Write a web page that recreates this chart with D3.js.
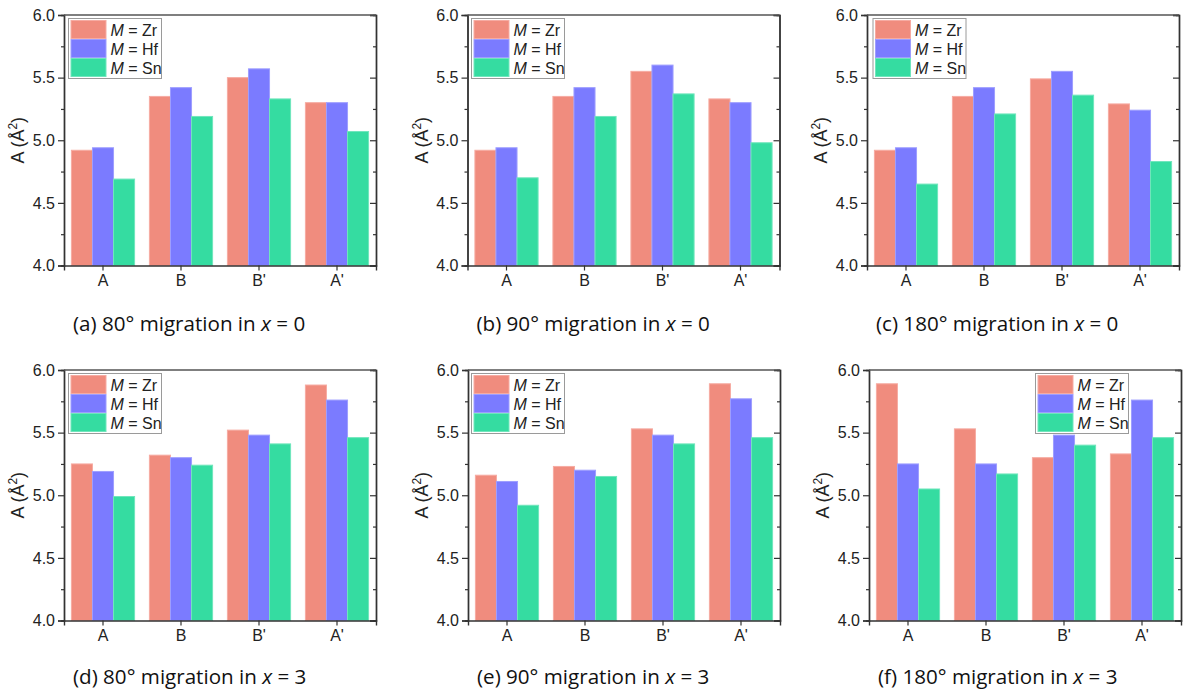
<!DOCTYPE html>
<html>
<head>
<meta charset="utf-8">
<script src="https://cdn.jsdelivr.net/npm/d3@7"></script>
<style>
  html, body { margin: 0; padding: 0; background: #fff; }
  svg { display: block; }
  .tick text { font-family: "Liberation Sans", Arial, sans-serif; font-size: 16px; fill: #222; }
</style>
</head>
<body>
<svg id="fig" width="1184" height="695"></svg>
<script>
// Categories (migration sites) and metal series
const categories = ["A", "B", "B'", "A'"];
const metals = ["Zr", "Hf", "Sn"];
const metalColors = ["#F08C7E", "#7B7BFF", "#35DCA1"];
const metalEdges = ["#F6ABA2", "#9E9EFF", "#70E6BC"];
const yMajorTicks = [4.0, 4.5, 5.0, 5.5, 6.0];
const yMinorTicks = [4.25, 4.75, 5.25, 5.75];

// Area A (Å²) per panel; rows are Zr, Hf, Sn; columns follow categories
const area80x0 = [[4.92, 5.35, 5.50, 5.30], [4.94, 5.42, 5.57, 5.30], [4.69, 5.19, 5.33, 5.07]];
const area90x0 = [[4.92, 5.35, 5.55, 5.33], [4.94, 5.42, 5.60, 5.30], [4.70, 5.19, 5.37, 4.98]];
const area180x0 = [[4.92, 5.35, 5.49, 5.29], [4.94, 5.42, 5.55, 5.24], [4.65, 5.21, 5.36, 4.83]];
const area80x3 = [[5.25, 5.32, 5.52, 5.88], [5.19, 5.30, 5.48, 5.76], [4.99, 5.24, 5.41, 5.46]];
const area90x3 = [[5.16, 5.23, 5.53, 5.89], [5.11, 5.20, 5.48, 5.77], [4.92, 5.15, 5.41, 5.46]];
const area180x3 = [[5.89, 5.53, 5.30, 5.33], [5.25, 5.25, 5.48, 5.76], [5.05, 5.17, 5.40, 5.46]];

const captionTags = ["(a)", "(b)", "(c)", "(d)", "(e)", "(f)"];
const captionAngles = ["80°", "90°", "180°", "80°", "90°", "180°"];
const captionX = ["0", "0", "0", "3", "3", "3"];

const panelData = [area80x0, area90x0, area180x0, area80x3, area90x3, area180x3];

// Layout of the six panels
const plotW = 312, plotH = 250.5;
const panels = [
  { left: 64, top: 15, legendDx: 4.5 },
  { left: 467.5, top: 15, legendDx: 4 },
  { left: 867, top: 15, legendDx: 6 },
  { left: 64, top: 370, legendDx: 4.5 },
  { left: 468, top: 370, legendDx: 3.5 },
  { left: 869, top: 370, legendDx: 166.5 }
];

const svg = d3.select("#fig");
const axisColor = "#333";

panels.forEach((p, pi) => {
  const g = svg.append("g").attr("transform", `translate(${p.left},${p.top})`);
  const data = panelData[pi];

  const x = d3.scaleBand().domain(categories).range([0, plotW]).padding(0);
  const groupW = x.bandwidth() * 0.81;
  const xs = d3.scaleBand().domain(metals).range([0, groupW]).padding(0);
  const y = d3.scaleLinear().domain([4, 6]).range([plotH, 0]);

  // Bars
  metals.forEach((m, si) => {
    g.append("g").selectAll("rect")
      .data(categories.map((c, ci) => ({ c, v: data[si][ci] })))
      .join("rect")
      .attr("x", d => x(d.c) + (x.bandwidth() - groupW) / 2 + xs(m))
      .attr("y", d => y(d.v))
      .attr("width", xs.bandwidth())
      .attr("height", d => y(4) - y(d.v))
      .attr("fill", metalColors[si])
      .attr("stroke", metalEdges[si])
      .attr("stroke-width", 1);
  });

  // Left axis: outward ticks, major labelled
  g.append("g")
    .call(d3.axisLeft(y).tickValues(yMajorTicks).tickSize(6).tickPadding(3).tickFormat(d3.format(".1f")));
  g.append("g")
    .call(d3.axisLeft(y).tickValues(yMinorTicks).tickSize(3).tickFormat(""));

  // Right axis: inward ticks, unlabelled
  g.append("g").attr("transform", `translate(${plotW},0)`)
    .call(d3.axisLeft(y).tickValues(yMajorTicks).tickSize(6).tickFormat(""));
  g.append("g").attr("transform", `translate(${plotW},0)`)
    .call(d3.axisLeft(y).tickValues(yMinorTicks).tickSize(3).tickFormat(""));

  // Bottom axis with category labels
  g.append("g").attr("transform", `translate(0,${plotH})`)
    .call(d3.axisBottom(x).tickSize(5).tickPadding(4));

  // Top frame line
  g.append("line").attr("x1", 0).attr("x2", plotW).attr("y1", 0).attr("y2", 0)
    .attr("stroke", "#555").attr("stroke-width", 1.4);

  g.selectAll(".domain").attr("stroke", axisColor).attr("stroke-width", 1.4);
  g.selectAll(".tick line").attr("stroke", axisColor).attr("stroke-width", 1.2);

  // Y axis title
  const yt = g.append("text")
    .attr("transform", `translate(${-40},${plotH / 2}) rotate(-90)`)
    .attr("text-anchor", "middle")
    .attr("font-family", "Liberation Sans, Arial, sans-serif")
    .attr("font-size", 18)
    .attr("fill", "#222");
  yt.append("tspan").text("A (Å");
  yt.append("tspan").attr("font-size", 12).attr("dy", -7).text("2");
  yt.append("tspan").attr("dy", 7).text(")");

  // Legend
  const lg = g.append("g").attr("transform", `translate(${p.legendDx},3.5)`);
  lg.append("rect").attr("width", 93).attr("height", 60)
    .attr("fill", "#fff").attr("stroke", "#9a9a9a").attr("stroke-width", 1);
  metals.forEach((m, si) => {
    const ry = 2 + si * 19;
    lg.append("rect").attr("x", 2.5).attr("y", ry).attr("width", 35).attr("height", 18)
      .attr("fill", metalColors[si]).attr("stroke", metalEdges[si]).attr("stroke-width", 1);
    const t = lg.append("text").attr("x", 42).attr("y", ry + 15)
      .attr("font-family", "Liberation Sans, Arial, sans-serif")
      .attr("font-size", 16).attr("fill", "#222");
    t.append("tspan").attr("font-style", "italic").text("M");
    t.append("tspan").text(" = " + m);
  });

  // Caption below the panel
  const cap = g.append("text")
    .attr("x", 9).attr("y", pi < 3 ? 316 : 313.5)
    .attr("font-family", "'Open Sans', 'Noto Sans', sans-serif")
    .attr("font-size", 20.6).attr("fill", "#111");
  cap.append("tspan").text(`${captionTags[pi]} ${captionAngles[pi]} migration in `);
  cap.append("tspan").attr("font-style", "italic").text("x");
  cap.append("tspan").text(` = ${captionX[pi]}`);
});
</script>
</body>
</html>
